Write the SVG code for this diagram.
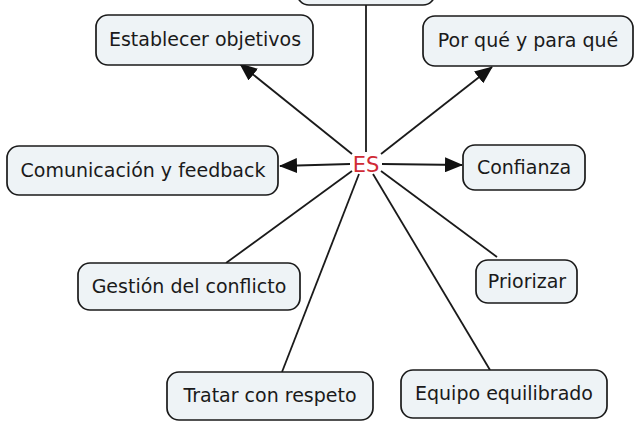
<svg xmlns="http://www.w3.org/2000/svg" width="635" height="425" viewBox="0 0 635 425">
<defs>
<style>
.box{fill:#eef3f6;stroke:#1a1a1a;stroke-width:1.7}
.lbl{font-family:"DejaVu Sans",Verdana,sans-serif;font-size:19px;fill:#1a1a1a;text-anchor:middle}
.ln{stroke:#1a1a1a;stroke-width:1.8;fill:none}
</style>
<marker id="arr" viewBox="0 0 18 15" refX="17" refY="7.5" markerWidth="18" markerHeight="15" orient="auto" markerUnits="userSpaceOnUse">
<path d="M0,0 L18,7.5 L0,15 Z" fill="#111"/>
</marker>
</defs>
<rect width="635" height="425" fill="#fff"/>
<g id="connectors">
<line class="ln" x1="366" y1="152" x2="366" y2="5"/>
<line class="ln" x1="352" y1="154" x2="240" y2="64" marker-end="url(#arr)"/>
<line class="ln" x1="381" y1="154" x2="492" y2="67" marker-end="url(#arr)"/>
<line class="ln" x1="350" y1="164" x2="280" y2="166" marker-end="url(#arr)"/>
<line class="ln" x1="382" y1="164" x2="462" y2="165" marker-end="url(#arr)"/>
<line class="ln" x1="352" y1="171" x2="226" y2="263"/>
<line class="ln" x1="359" y1="174" x2="282" y2="372"/>
<line class="ln" x1="373" y1="174" x2="490" y2="370"/>
<line class="ln" x1="381" y1="171" x2="497" y2="257"/>
</g>
<g id="node-top"><rect class="box" x="297" y="-40" width="138" height="45" rx="12"/></g>
<g id="node-es"><text x="366" y="172" style="font-family:'DejaVu Sans',Verdana,sans-serif;font-size:21px;fill:#d02b35;text-anchor:middle">ES</text></g>
<g id="node-establecer"><rect class="box" x="96" y="15" width="217" height="50" rx="12"/><text class="lbl" x="205" y="46">Establecer objetivos</text></g>
<g id="node-porque"><rect class="box" x="423" y="16" width="210" height="50" rx="12"/><text class="lbl" x="528" y="47">Por qué y para qué</text></g>
<g id="node-comunicacion"><rect class="box" x="7" y="146" width="271" height="49" rx="12"/><text class="lbl" x="143" y="177">Comunicación y feedback</text></g>
<g id="node-confianza"><rect class="box" x="463" y="145" width="122" height="45" rx="12"/><text class="lbl" x="524" y="174">Confianza</text></g>
<g id="node-gestion"><rect class="box" x="78" y="263" width="222" height="47" rx="12"/><text class="lbl" x="189" y="293">Gestión del conflicto</text></g>
<g id="node-priorizar"><rect class="box" x="476" y="260" width="101" height="43" rx="12"/><text class="lbl" x="527" y="288">Priorizar</text></g>
<g id="node-tratar"><rect class="box" x="167" y="372" width="206" height="48" rx="12"/><text class="lbl" x="270" y="402">Tratar con respeto</text></g>
<g id="node-equipo"><rect class="box" x="401" y="370" width="206" height="48" rx="12"/><text class="lbl" x="504" y="400">Equipo equilibrado</text></g>
</svg>
